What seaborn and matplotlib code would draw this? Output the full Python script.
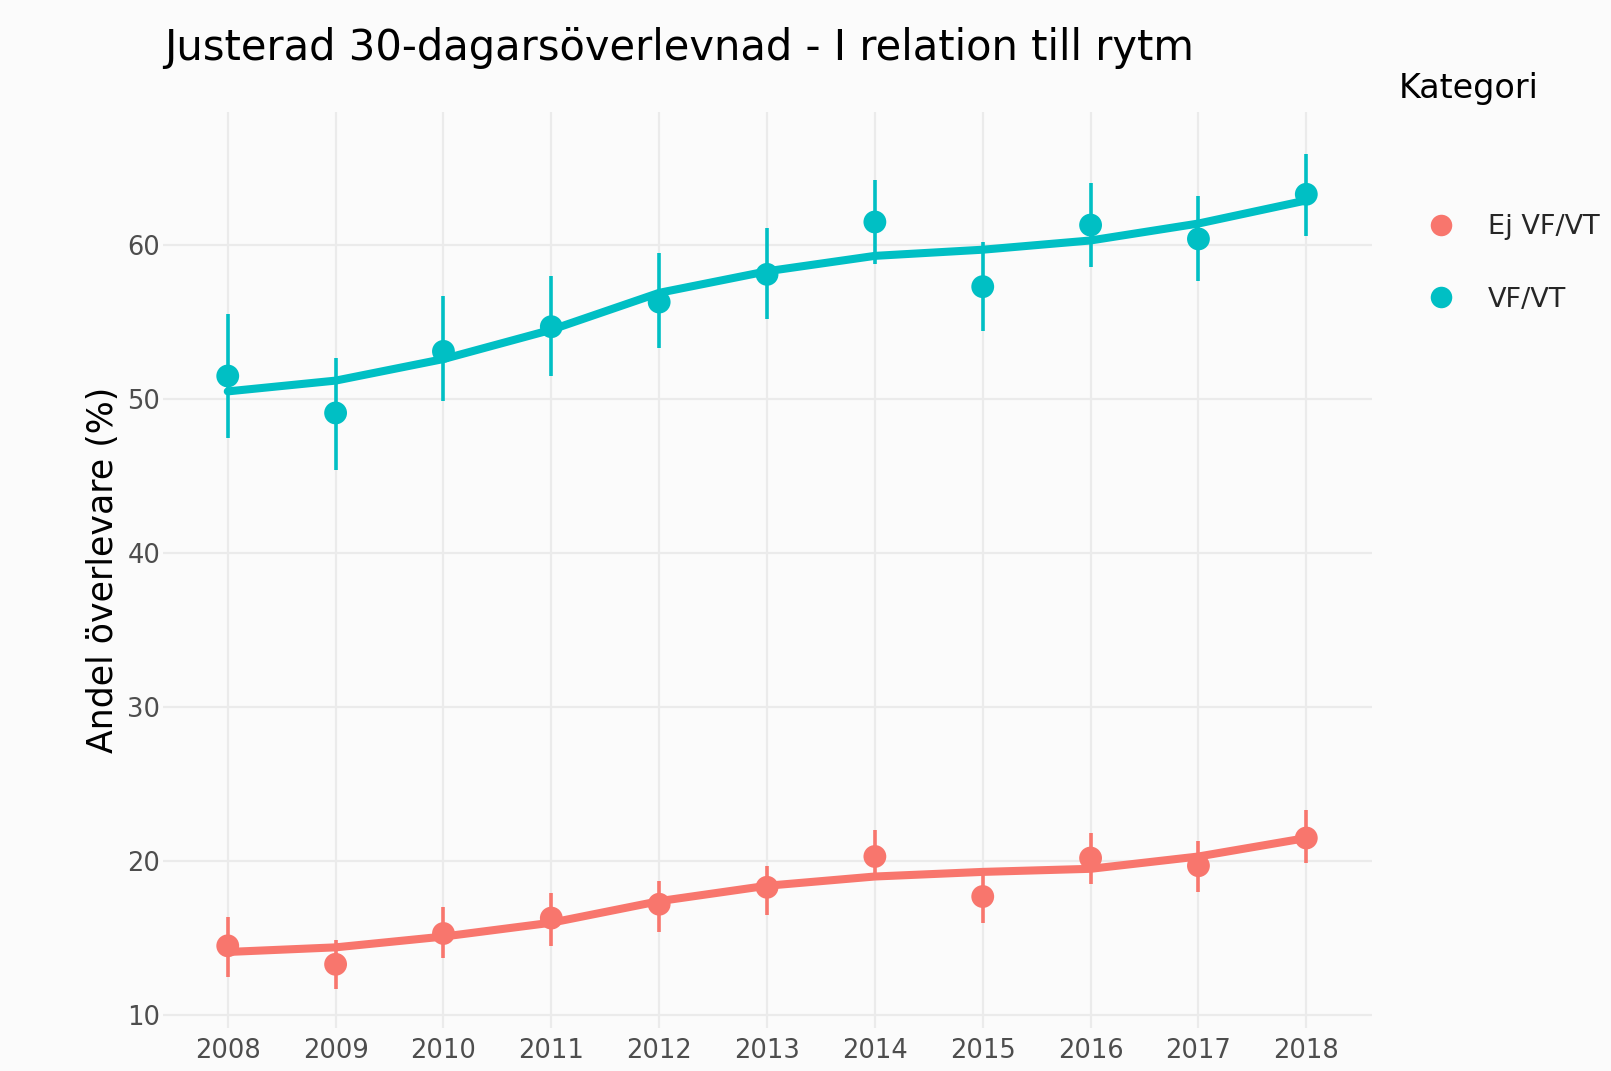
import pandas as pd
import matplotlib
matplotlib.use("Agg")
import matplotlib.pyplot as plt
import seaborn as sns

# Data
years = [2008, 2009, 2010, 2011, 2012, 2013, 2014, 2015, 2016, 2017, 2018]
categories = ["Ej VF/VT", "VF/VT"]

# VF/VT (teal)
vf_point = [51.5, 49.1, 53.1, 54.7, 56.3, 58.1, 61.5, 57.3, 61.3, 60.4, 63.3]
vf_low = [47.5, 45.4, 49.9, 51.5, 53.3, 55.2, 58.8, 54.4, 58.6, 57.7, 60.6]
vf_high = [55.5, 52.7, 56.7, 58.0, 59.5, 61.1, 64.2, 60.2, 64.0, 63.2, 65.9]
vf_smooth = [50.5, 51.2, 52.6, 54.5, 56.9, 58.3, 59.3, 59.7, 60.3, 61.4, 62.9]

# Ej VF/VT (red)
ej_point = [14.5, 13.3, 15.3, 16.3, 17.2, 18.3, 20.3, 17.7, 20.2, 19.7, 21.5]
ej_low = [12.5, 11.7, 13.7, 14.5, 15.4, 16.5, 18.9, 16.0, 18.5, 18.0, 19.9]
ej_high = [16.4, 14.9, 17.0, 17.9, 18.7, 19.7, 22.0, 19.2, 21.8, 21.3, 23.3]
ej_smooth = [14.1, 14.4, 15.1, 16.0, 17.4, 18.4, 19.0, 19.3, 19.5, 20.3, 21.5]

palette = {"Ej VF/VT": "#F8766D", "VF/VT": "#00BFC4"}

df = pd.DataFrame({
    "year": years * 2,
    "Kategori": [categories[0]] * len(years) + [categories[1]] * len(years),
    "point": ej_point + vf_point,
    "low": ej_low + vf_low,
    "high": ej_high + vf_high,
    "smooth": ej_smooth + vf_smooth,
})

sns.set_theme(style="whitegrid")
plt.rcParams["font.family"] = ["DejaVu Sans"]
bg = "#FBFBFB"

fig = plt.figure(figsize=(16.11, 10.71), dpi=100, facecolor=bg)
ax = fig.add_axes([0.1012, 0.0401, 0.7505, 0.8553])
ax.set_facecolor(bg)

# error bars
for cat in categories:
    sub = df[df["Kategori"] == cat]
    ax.vlines(sub["year"], sub["low"], sub["high"], color=palette[cat],
              linewidth=2.6, zorder=2)

sns.scatterplot(data=df, x="year", y="point", hue="Kategori", palette=palette,
                s=270, linewidth=0, ax=ax, zorder=3, legend=False)
sns.lineplot(data=df, x="year", y="smooth", hue="Kategori", palette=palette,
             linewidth=5.8, ax=ax, zorder=4, legend=False)

ax.set_xlim(2007.40, 2018.61)
ax.set_ylim(9.16, 68.64)
ax.set_xticks(years)
ax.set_yticks([10, 20, 30, 40, 50, 60])
ax.grid(True, color="#EBEBEB", linewidth=1.6)
for s in ax.spines.values():
    s.set_visible(False)
ax.tick_params(axis="both", length=0, labelsize=18.5, labelcolor="#4D4D4D")
ax.tick_params(axis="x", pad=7.5)
ax.tick_params(axis="y", pad=2)
ax.set_xlabel("")
ax.set_ylabel("Andel överlevare (%)", fontsize=25, color="black", labelpad=5)

fig.text(0.1018, 0.955, "Justerad 30-dagarsöverlevnad - I relation till rytm",
         fontsize=30, color="black", ha="left", va="center")

# legend
fig.text(0.8685, 0.917, "Kategori", fontsize=24, color="black",
         ha="left", va="center")
handles = [plt.Line2D([], [], marker="o", linestyle="", markersize=15.5,
                      markeredgewidth=0, color=palette[c]) for c in categories]
fig.legend(handles, categories, loc="upper left", bbox_to_anchor=(0.886, 0.800),
           frameon=False, fontsize=19.5, handlelength=1.0, handletextpad=1.24,
           labelspacing=1.72, borderpad=0, borderaxespad=0)

fig.savefig("out.png", dpi=100, facecolor=bg)
